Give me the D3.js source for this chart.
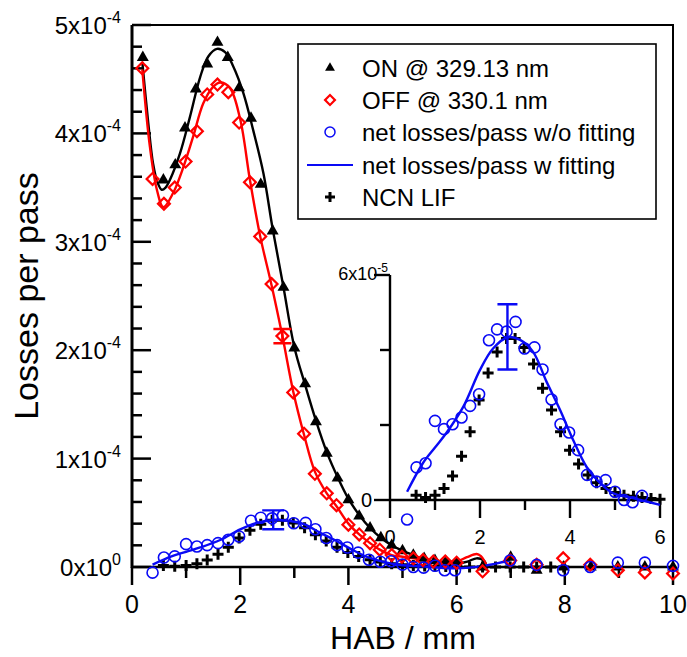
<!DOCTYPE html>
<html><head><meta charset="utf-8">
<script src="https://cdn.jsdelivr.net/npm/d3@7"></script>
<style>
html,body{margin:0;padding:0;background:#fff;}
svg{display:block;font-family:"Liberation Sans",Arial,sans-serif;}
</style></head>
<body><svg id="c" width="687" height="657"></svg>
<script>
// ON @ 329.13 nm (losses per pass, units 1e-4)
const onX = [0.2,0.58,0.8,0.98,1.18,1.39,1.58,1.77,1.98,2.2,2.38,2.6,2.8,3.0,3.2,3.4,3.6,3.8,4.0,4.2,4.4,4.6,4.8,5.0,5.2,5.4,5.6,5.8,6.0,6.48,7.0,7.48,7.98,8.48,8.98,9.48,10.0];
const onY = [4.70,3.57,3.71,4.05,4.41,4.64,4.84,4.70,4.42,4.14,3.53,3.10,2.58,2.02,1.69,1.34,1.05,0.82,0.62,0.47,0.36,0.27,0.20,0.15,0.11,0.08,0.06,0.05,0.04,0.0,0.09,-0.03,0.0,0.0,0.0,0.0,0.0];
// ON fitted line (units 1e-4)
const onFitX = [0.19,0.3,0.39,0.47,0.55,0.62,0.7,0.89,1.07,1.26,1.41,1.57,1.72,1.87,2.06,2.24,2.43,2.6,2.8,3.0,3.2,3.4,3.6,3.8,4.0,4.2,4.4,4.6,4.8,5.0,5.2,5.4,5.7,6.0,6.2,6.37,6.5,6.56];
const onFitY = [4.66,4.1,3.72,3.55,3.48,3.5,3.57,3.82,4.15,4.52,4.71,4.78,4.75,4.62,4.37,4.03,3.63,3.12,2.58,2.03,1.68,1.35,1.06,0.83,0.63,0.48,0.36,0.27,0.2,0.15,0.11,0.07,0.03,0.03,0.05,0.08,0.06,0.0];
// OFF @ 330.1 nm (units 1e-4)
const offX = [0.19,0.38,0.59,0.79,0.99,1.2,1.39,1.58,1.78,1.98,2.18,2.37,2.58,2.78,2.98,3.18,3.38,3.6,3.78,4.0,4.2,4.4,4.58,4.8,4.99,5.2,5.38,5.57,5.79,6.0,6.48,6.99,7.48,7.97,8.47,8.98,9.48,10.0];
const offY = [4.60,3.58,3.35,3.5,3.74,4.02,4.36,4.45,4.38,4.1,3.55,3.05,2.61,2.13,1.61,1.23,0.86,0.68,0.57,0.39,0.30,0.22,0.16,0.11,0.095,0.08,0.064,0.05,0.05,0.04,-0.04,0.06,0.02,0.08,0.02,-0.03,-0.05,-0.06];
// OFF fitted line (units 1e-4)
const offFitX = [0.19,0.33,0.46,0.58,0.76,0.95,1.13,1.32,1.5,1.63,1.81,2.0,2.18,2.37,2.58,2.78,2.98,3.18,3.38,3.6,3.78,4.0,4.2,4.4,4.58,4.8,5.0,5.2,5.4,5.6,5.8,6.0,6.19,6.37,6.45,6.52,6.56];
const offFitY = [4.59,3.88,3.48,3.32,3.45,3.69,3.97,4.28,4.43,4.47,4.42,4.13,3.57,3.05,2.6,2.13,1.62,1.22,0.88,0.68,0.56,0.40,0.30,0.22,0.16,0.11,0.095,0.08,0.064,0.05,0.05,0.05,0.09,0.12,0.1,0.05,0.0];
// net losses/pass w/o fitting (units 1e-5)
const netX = [0.38,0.59,0.79,1.0,1.2,1.39,1.59,1.78,1.98,2.2,2.38,2.59,2.79,2.99,3.21,3.39,3.59,3.79,3.98,4.18,4.38,4.59,4.79,5.0,5.2,5.39,5.6,5.78,5.97,6.99,7.48,7.97,8.47,8.98,9.48,10.0];
const netY = [-0.52,0.87,0.98,2.11,1.89,2.02,2.2,2.51,2.82,4.26,4.55,4.49,4.75,4.04,4.07,3.48,2.68,2.02,1.8,1.33,0.67,0.49,0.53,0.22,0.0,-0.06,0.11,-0.3,-0.3,0.6,0.2,-0.3,0.0,0.4,0.4,0.1];
// net losses/pass w fitting (units 1e-5)
const fitX = [0.38,0.73,1.0,1.26,1.63,2.0,2.29,2.62,2.89,3.18,3.48,3.78,4.07,4.37,4.67,4.96,5.4,6.0,6.5,6.99];
const fitY = [0.22,0.98,1.4,1.8,2.49,3.47,4.04,4.34,4.27,3.95,3.15,2.4,1.6,0.88,0.45,0.18,0.05,-0.13,0.1,0.6];
// NCN LIF (scaled, units 1e-5)
const ncnX = [0.58,0.79,1.0,1.2,1.39,1.59,1.78,1.98,2.18,2.38,2.59,2.78,2.98,3.19,3.39,3.59,3.79,3.99,4.19,4.4,4.59,4.8,5.0,5.2,5.41,5.6,5.8,6.0,6.24,6.48,6.72,6.99,7.24,7.48,7.74,7.98];
const ncnY = [0.13,0.07,0.13,0.31,0.64,1.17,1.82,2.67,3.39,3.95,4.31,4.31,4.07,3.63,2.98,2.4,1.82,1.33,0.96,0.67,0.46,0.31,0.2,0.13,0.1,0.07,0.04,0.02,0,0,0,0,0,0,0,0];
// error bars: [x, center, half-width]
const errNet = [2.61, 4.35, 0.87];   // units 1e-5
const errOff = [2.78, 2.13, 0.066];  // units 1e-4
// ticks
const xTicksMain = [0,2,4,6,8,10];
const yTicksMain = [0,1,2,3,4,5];
const xTicksInset = [0,2,4,6];
const legendLabels = ["ON @ 329.13 nm","OFF @ 330.1 nm","net losses/pass w/o fitting","net losses/pass w fitting","NCN LIF"];

const svg = d3.select("#c");
const x = d3.scaleLinear([0,10],[132,673]);
const y = d3.scaleLinear([0,5e-4],[567,25]);
const xi = d3.scaleLinear([0,6],[390,660]);
const yi = d3.scaleLinear([0,6e-5],[500,275]);

const zip = (a,b,k)=>a.map((v,i)=>[v,b[i]*k]);
const onD = zip(onX,onY,1e-4), offD = zip(offX,offY,1e-4);
const onFitD = zip(onFitX,onFitY,1e-4), offFitD = zip(offFitX,offFitY,1e-4);
const netD = zip(netX,netY,1e-5), fitD = zip(fitX,fitY,1e-5), ncnD = zip(ncnX,ncnY,1e-5);

const BLUE="#0a0af5", RED="#ff0000";
const triPath = d3.symbol(d3.symbolTriangle,62)();
const triSmall = d3.symbol(d3.symbolTriangle,42)();
function plusPath(s){return `M${-s},0H${s}M0,${-s}V${s}`;}

function drawSeries(g,sx,sy,opts){
  const {on,off,onFit,offFit,net,fit,ncn,err1,err2}=opts;
  const line = d3.line().x(d=>sx(d[0])).y(d=>sy(d[1])).curve(d3.curveCatmullRom.alpha(0.5));
  if(onFit){
    g.append("path").attr("d",line(onFit)).attr("fill","none").attr("stroke","#000").attr("stroke-width",2.4);
    g.append("path").attr("d",line(offFit)).attr("fill","none").attr("stroke",RED).attr("stroke-width",2.4);
  }
  g.selectAll(null).data(ncn).join("path").attr("d",plusPath(5.5)).attr("transform",d=>`translate(${sx(d[0])},${sy(d[1])})`).attr("stroke","#000").attr("stroke-width",3).attr("fill","none");
  g.append("path").attr("d",line(fit)).attr("fill","none").attr("stroke",BLUE).attr("stroke-width",2.4);
  if(on){
    g.selectAll(null).data(on).join("path").attr("d",triPath).attr("transform",d=>`translate(${sx(d[0])},${sy(d[1])})`).attr("fill","#000");
    g.selectAll(null).data(off).join("rect").attr("x",-4.2).attr("y",-4.2).attr("width",8.4).attr("height",8.4)
      .attr("transform",d=>`translate(${sx(d[0])},${sy(d[1])}) rotate(45)`).attr("fill","none").attr("stroke",RED).attr("stroke-width",2.2);
  }
  g.selectAll(null).data(net).join("circle").attr("cx",d=>sx(d[0])).attr("cy",d=>sy(d[1])).attr("r",5.5).attr("fill","none").attr("stroke",BLUE).attr("stroke-width",1.6);
  const eb=(e,k,col,cw)=>{
    const xx=sx(e[0]), y1=sy((e[1]+e[2])*k), y2=sy((e[1]-e[2])*k);
    g.append("path").attr("d",`M${xx},${y1}V${y2}M${xx-cw/2},${y1}H${xx+cw/2}M${xx-cw/2},${y2}H${xx+cw/2}`).attr("stroke",col).attr("stroke-width",2.4).attr("fill","none");
  };
  if(err1) eb(err1[0],err1[1],err1[2],err1[3]);
  if(err2) eb(err2[0],err2[1],err2[2],err2[3]);
}

// ---- main axes ----
const ax = svg.append("g");
ax.append("path").attr("d",`M${x(0)},${y(5e-4)}H${x(10)}V${y(0)}`).attr("fill","none").attr("stroke","#000").attr("stroke-width",2);
ax.append("line").attr("x1",x(0)).attr("x2",x(10)).attr("y1",y(0)).attr("y2",y(0)).attr("stroke","#000").attr("stroke-width",2.5);
d3.range(0,11,1).forEach(v=>{
  const major = v%2===0;
  ax.append("line").attr("x1",x(v)).attr("x2",x(v)).attr("y1",y(0)).attr("y2",y(0)+(major?18:11)).attr("stroke","#000").attr("stroke-width",2.5);
});
xTicksMain.forEach(v=>{
  ax.append("text").attr("x",x(v)).attr("y",613).attr("text-anchor","middle").attr("font-size",25).text(v);
});
ax.append("line").attr("x1",x(0)).attr("x2",x(0)).attr("y1",y(0)+1).attr("y2",y(5e-4)).attr("stroke","#000").attr("stroke-width",3);
d3.range(0,26,1).forEach(i=>{
  const v=i*0.2e-4, major=i%5===0;
  ax.append("line").attr("x1",x(0)).attr("x2",x(0)+(major?19:10)).attr("y1",y(v)).attr("y2",y(v)).attr("stroke","#000").attr("stroke-width",2.5);
});
yTicksMain.forEach(v=>{
  const t=ax.append("text").attr("x",121).attr("y",y(v*1e-4)+9).attr("text-anchor","end").attr("font-size",24);
  t.append("tspan").text(v+"x10");
  t.append("tspan").attr("dy",-11).attr("font-size",16).text(v===0?"0":"-4");
});
svg.append("text").attr("x",403).attr("y",649).attr("text-anchor","middle").attr("font-size",32).text("HAB / mm");
svg.append("text").attr("transform","translate(38,296) rotate(-90)").attr("text-anchor","middle").attr("font-size",34).text("Losses per pass");

// ---- main data ----
const gm = svg.append("g");
drawSeries(gm,x,y,{on:onD,off:offD,onFit:onFitD,offFit:offFitD,net:netD,fit:fitD,ncn:ncnD,
  err1:[errNet,1e-5,BLUE,22], err2:[errOff,1e-4,RED,18]});

// ---- inset ----
const gi = svg.append("g");
gi.append("line").attr("x1",xi(0)).attr("x2",xi(6)).attr("y1",yi(0)).attr("y2",yi(0)).attr("stroke","#000").attr("stroke-width",2.4);
gi.append("line").attr("x1",xi(0)).attr("x2",xi(0)).attr("y1",yi(0)).attr("y2",yi(6e-5)).attr("stroke","#000").attr("stroke-width",2.4);
d3.range(0,7,1).forEach(v=>{
  const major=v%2===0;
  gi.append("line").attr("x1",xi(v)).attr("x2",xi(v)).attr("y1",yi(0)).attr("y2",yi(0)+(major?18:10)).attr("stroke","#000").attr("stroke-width",2.4);
});
xTicksInset.forEach(v=>gi.append("text").attr("x",xi(v)).attr("y",544).attr("text-anchor","middle").attr("font-size",20).text(v));
[0,2,4,6].forEach(v=>{
  const major=(v===0||v===6);
  gi.append("line").attr("x1",xi(0)).attr("x2",xi(0)-(major?16:10)).attr("y1",yi(v*1e-5)).attr("y2",yi(v*1e-5)).attr("stroke","#000").attr("stroke-width",2.4);
});
gi.append("text").attr("x",372).attr("y",yi(0)+7).attr("text-anchor","end").attr("font-size",20).text("0");
{
  const t=gi.append("text").attr("x",388).attr("y",yi(6e-5)+5).attr("text-anchor","end").attr("font-size",18);
  t.append("tspan").text("6x10");
  t.append("tspan").attr("dy",-8).attr("font-size",12).text("-5");
}
drawSeries(gi,xi,yi,{net:netD.filter(d=>d[0]<=5.65),fit:fitD.filter(d=>d[0]<=6.01),ncn:ncnD.filter(d=>d[0]<=6.01),
  err1:[errNet,1e-5,BLUE,20]});

// ---- legend ----
const lg = svg.append("g");
lg.append("rect").attr("x",298).attr("y",44).attr("width",358).attr("height",175).attr("fill","#fff").attr("stroke","#000").attr("stroke-width",1.6);
const rows=[68,100,132,165,197];
lg.append("path").attr("d",triSmall).attr("transform",`translate(330,${rows[0]})`).attr("fill","#000");
lg.append("rect").attr("x",-3.5).attr("y",-3.5).attr("width",7).attr("height",7).attr("transform",`translate(330,${rows[1]}) rotate(45)`).attr("fill","none").attr("stroke",RED).attr("stroke-width",2.2);
lg.append("circle").attr("cx",330).attr("cy",rows[2]).attr("r",5).attr("fill","none").attr("stroke",BLUE).attr("stroke-width",1.5);
lg.append("line").attr("x1",307).attr("x2",353).attr("y1",rows[3]).attr("y2",rows[3]).attr("stroke",BLUE).attr("stroke-width",2.2);
lg.append("path").attr("d",plusPath(5)).attr("transform",`translate(330,${rows[4]})`).attr("stroke","#000").attr("stroke-width",3);
legendLabels.forEach((s,i)=>lg.append("text").attr("x",362).attr("y",rows[i]+8.5).attr("font-size",24).text(s));
</script></body></html>
